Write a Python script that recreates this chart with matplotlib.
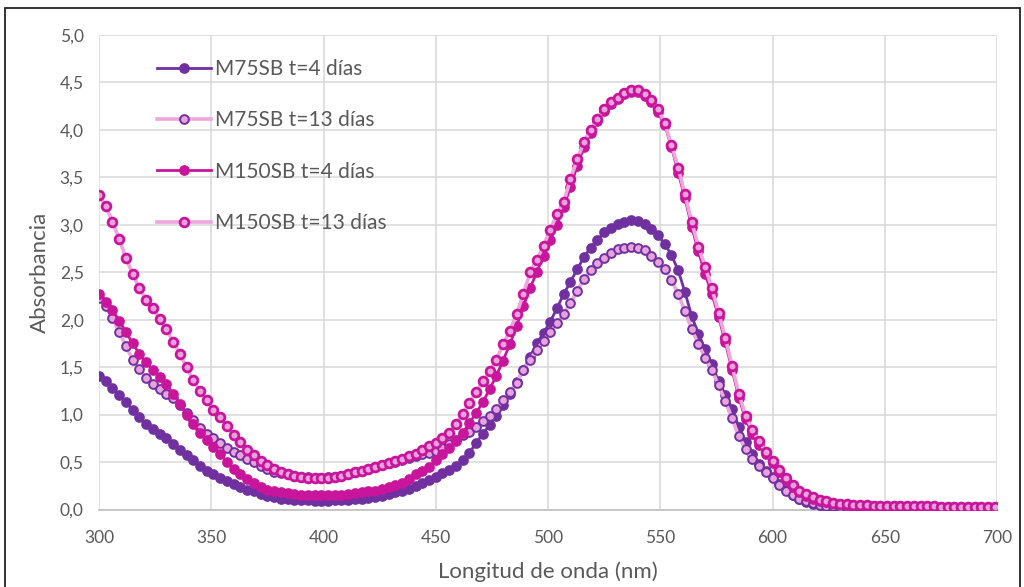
import matplotlib
matplotlib.use('Agg')

import numpy as np
import matplotlib.pyplot as plt
from matplotlib.patches import Rectangle

# longitud de onda: 300 .. 699 nm, paso 3 nm
wavelength = np.arange(300, 700, 3)

m75_t4 = [
    1.41, 1.35, 1.28, 1.21, 1.13, 1.05, 0.97, 0.90, 0.85, 0.80,
    0.75, 0.69, 0.63, 0.57, 0.52, 0.46, 0.41, 0.37, 0.33, 0.30,
    0.27, 0.24, 0.21, 0.19, 0.16, 0.14, 0.13, 0.115, 0.11, 0.10,
    0.095, 0.095, 0.09, 0.09, 0.09, 0.095, 0.10, 0.10, 0.11, 0.11,
    0.12, 0.13, 0.14, 0.16, 0.18, 0.19, 0.22, 0.25, 0.28, 0.31,
    0.34, 0.38, 0.42, 0.46, 0.52, 0.60, 0.70, 0.80, 0.89, 0.99,
    1.10, 1.22, 1.34, 1.47, 1.61, 1.75, 1.86, 1.98, 2.12, 2.27,
    2.40, 2.53, 2.66, 2.76, 2.84, 2.92, 2.97, 3.01, 3.03, 3.05,
    3.04, 3.01, 2.96, 2.89, 2.80, 2.68, 2.52, 2.29, 2.04, 1.85,
    1.69, 1.53, 1.35, 1.21, 1.06, 0.87, 0.71, 0.58, 0.48, 0.41,
    0.34, 0.27, 0.21, 0.15, 0.11, 0.08, 0.06, 0.045, 0.035, 0.03,
    0.025, 0.022, 0.02, 0.02, 0.018, 0.017, 0.016, 0.015, 0.015, 0.014,
    0.014, 0.013, 0.013, 0.012, 0.012, 0.012, 0.011, 0.011, 0.011, 0.010,
    0.010, 0.010, 0.010, 0.010,
]

m75_t13 = [
    2.23, 2.14, 2.02, 1.87, 1.72, 1.58, 1.48, 1.39, 1.32, 1.27,
    1.22, 1.17, 1.10, 1.02, 0.94, 0.86, 0.80, 0.75, 0.70, 0.65,
    0.61, 0.57, 0.53, 0.50, 0.46, 0.43, 0.40, 0.38, 0.37, 0.355,
    0.345, 0.34, 0.335, 0.335, 0.34, 0.345, 0.355, 0.37, 0.39, 0.41,
    0.43, 0.45, 0.47, 0.49, 0.50, 0.52, 0.54, 0.56, 0.58, 0.60,
    0.62, 0.65, 0.69, 0.73, 0.78, 0.82, 0.87, 0.93, 0.99, 1.06,
    1.15, 1.24, 1.33, 1.47, 1.58, 1.68, 1.78, 1.87, 1.96, 2.06,
    2.18, 2.30, 2.43, 2.52, 2.60, 2.65, 2.70, 2.74, 2.76, 2.77,
    2.76, 2.73, 2.67, 2.61, 2.53, 2.42, 2.27, 2.09, 1.90, 1.74,
    1.60, 1.47, 1.31, 1.14, 0.96, 0.77, 0.64, 0.53, 0.46, 0.39,
    0.33, 0.26, 0.20, 0.15, 0.11, 0.085, 0.065, 0.05, 0.04, 0.035,
    0.03, 0.028, 0.025, 0.023, 0.021, 0.02, 0.019, 0.018, 0.017, 0.016,
    0.016, 0.015, 0.015, 0.014, 0.014, 0.013, 0.013, 0.013, 0.012, 0.012,
    0.012, 0.012, 0.011, 0.011,
]

m150_t4 = [
    2.27, 2.19, 2.10, 1.99, 1.87, 1.75, 1.64, 1.55, 1.47, 1.40,
    1.32, 1.22, 1.11, 1.00, 0.90, 0.81, 0.73, 0.66, 0.58, 0.50,
    0.43, 0.37, 0.32, 0.28, 0.24, 0.21, 0.19, 0.18, 0.17, 0.16,
    0.155, 0.15, 0.15, 0.15, 0.15, 0.15, 0.155, 0.16, 0.17, 0.18,
    0.19, 0.20, 0.22, 0.24, 0.26, 0.28, 0.32, 0.37, 0.41, 0.45,
    0.52, 0.59, 0.65, 0.72, 0.81, 0.91, 1.02, 1.13, 1.27, 1.41,
    1.57, 1.74, 1.93, 2.14, 2.33, 2.50, 2.67, 2.84, 3.00, 3.19,
    3.40, 3.62, 3.82, 3.97, 4.09, 4.20, 4.27, 4.33, 4.38, 4.40,
    4.40, 4.36, 4.29, 4.19, 4.05, 3.82, 3.55, 3.28, 2.98, 2.72,
    2.48, 2.27, 2.03, 1.76, 1.47, 1.18, 0.95, 0.80, 0.68, 0.58,
    0.49, 0.40, 0.31, 0.24, 0.18, 0.14, 0.11, 0.09, 0.075, 0.065,
    0.055, 0.05, 0.045, 0.042, 0.04, 0.038, 0.036, 0.035, 0.034, 0.033,
    0.032, 0.031, 0.031, 0.030, 0.030, 0.029, 0.029, 0.028, 0.028, 0.027,
    0.027, 0.026, 0.026, 0.026,
]

m150_t13 = [
    3.31, 3.20, 3.03, 2.85, 2.65, 2.48, 2.33, 2.21, 2.12, 2.01,
    1.90, 1.77, 1.64, 1.50, 1.36, 1.25, 1.15, 1.05, 0.97, 0.88,
    0.79, 0.71, 0.63, 0.57, 0.51, 0.47, 0.43, 0.40, 0.37, 0.35,
    0.34, 0.33, 0.33, 0.33, 0.33, 0.34, 0.35, 0.37, 0.39, 0.41,
    0.43, 0.45, 0.47, 0.49, 0.51, 0.53, 0.56, 0.59, 0.63, 0.67,
    0.70, 0.75, 0.81, 0.90, 1.01, 1.12, 1.24, 1.35, 1.46, 1.58,
    1.74, 1.88, 2.06, 2.27, 2.50, 2.63, 2.78, 2.95, 3.11, 3.24,
    3.48, 3.69, 3.87, 4.00, 4.11, 4.22, 4.29, 4.34, 4.39, 4.42,
    4.42, 4.38, 4.32, 4.22, 4.07, 3.84, 3.60, 3.32, 3.03, 2.77,
    2.56, 2.33, 2.07, 1.81, 1.51, 1.22, 0.99, 0.84, 0.72, 0.61,
    0.51, 0.42, 0.33, 0.26, 0.20, 0.16, 0.13, 0.10, 0.085, 0.072,
    0.062, 0.056, 0.051, 0.047, 0.044, 0.042, 0.040, 0.038, 0.037, 0.036,
    0.035, 0.034, 0.033, 0.033, 0.032, 0.031, 0.031, 0.030, 0.030, 0.029,
    0.029, 0.028, 0.028, 0.028,
]

labels = ['M75SB t=4 días', 'M75SB t=13 días', 'M150SB t=4 días', 'M150SB t=13 días']
x_ticks = [300, 350, 400, 450, 500, 550, 600, 650, 700]
y_ticks = [0.0, 0.5, 1.0, 1.5, 2.0, 2.5, 3.0, 3.5, 4.0, 4.5, 5.0]

purple = '#7030A0'
magenta = '#C8159B'
pink_line = '#EFA5DD'
pink_face = '#E9A3DC'
grey_txt = '#595959'

plt.rcParams['font.family'] = ['Lato', 'DejaVu Sans']

fig = plt.figure(figsize=(10.24, 5.87), dpi=100)
ax = fig.add_axes([99 / 1024, 1 - 509.5 / 587, 898 / 1024, 474.5 / 587])

ms = 6.3
ax.plot(wavelength, m75_t4, '-o', color=purple, lw=2.0, ms=ms,
        mfc=purple, mec=purple, mew=1.4, label=labels[0], zorder=3)
ax.plot(wavelength, m75_t13, '-o', color=pink_line, lw=2.6, ms=ms,
        mfc=pink_face, mec=purple, mew=1.4, label=labels[1], zorder=4)
ax.plot(wavelength, m150_t4, '-o', color=magenta, lw=2.0, ms=ms,
        mfc=magenta, mec=magenta, mew=1.4, label=labels[2], zorder=5)
ax.plot(wavelength, m150_t13, '-o', color=pink_line, lw=2.6, ms=ms,
        mfc=pink_face, mec=magenta, mew=2.0, label=labels[3], zorder=6)

ax.set_xlim(300, 700)
ax.set_ylim(0, 5)
ax.set_xticks(x_ticks)
ax.set_yticks(y_ticks)
ax.set_yticklabels([f'{v:.1f}'.replace('.', ',') for v in y_ticks])
ax.grid(True, color='#D9D9D9', lw=1.1)
ax.set_axisbelow(True)
for side in ['top', 'right', 'left']:
    ax.spines[side].set_visible(False)
ax.spines['bottom'].set_color('#BFBFBF')
ax.spines['bottom'].set_linewidth(1.2)
ax.tick_params(length=0, labelsize=12.5, colors=grey_txt)
ax.tick_params(axis='x', pad=15)
ax.tick_params(axis='y', pad=11)

ax.set_xlabel('Longitud de onda (nm)', fontsize=16, color=grey_txt, labelpad=11)
ax.set_ylabel('Absorbancia', fontsize=16, color=grey_txt, labelpad=7)

leg = ax.legend(loc='upper left', bbox_to_anchor=(0.041, 0.993), frameon=False,
                fontsize=15, labelspacing=1.5, handlelength=2.6,
                handletextpad=0.2, numpoints=1, borderaxespad=0.6)
for t in leg.get_texts():
    t.set_color(grey_txt)

# borde del área del gráfico
fig.patches.append(Rectangle((5 / 1024, -0.05), 1015 / 1024, 1.05 - 8 / 587,
                             transform=fig.transFigure, fill=False,
                             edgecolor='#222222', lw=1.3))

fig.savefig('out.png', dpi=100)
